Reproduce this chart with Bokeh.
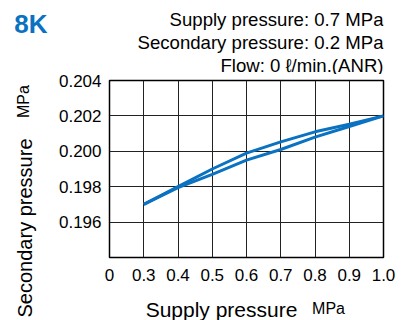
from bokeh.plotting import figure
from bokeh.layouts import column
from bokeh.models import FixedTicker, Label, Range1d, LinearAxis
from bokeh.embed import file_html
from bokeh.resources import INLINE

# --- data ---
supply = [0.3, 0.4, 0.5, 0.6, 0.7, 0.8, 0.9, 1.0]
secondary_upper = [0.1970, 0.1980, 0.1990, 0.1999, 0.20053, 0.2011, 0.20153, 0.2020]
secondary_lower = [0.1970, 0.19795, 0.1987, 0.1995, 0.2001, 0.2008, 0.2014, 0.2020]

x_ticks = [0.2, 0.3, 0.4, 0.5, 0.6, 0.7, 0.8, 0.9, 1.0]
x_tick_labels = ["0", "0.3", "0.4", "0.5", "0.6", "0.7", "0.8", "0.9", "1.0"]
y_ticks = [0.196, 0.198, 0.200, 0.202, 0.204]
y_tick_labels = ["0.196", "0.198", "0.200", "0.202", "0.204"]
y_grid = [0.194, 0.196, 0.198, 0.200, 0.202, 0.204]

title_text = "8K"
cond_lines = ["Supply pressure: 0.7 MPa", "Secondary pressure: 0.2 MPa", "Flow: 0 \u2113/min.(ANR)"]
x_label, y_label, unit = "Supply pressure", "Secondary pressure", "MPa"

BLUE = "#0a72c0"
FONT = "Liberation Sans"

W, H = 411, 320
FL, FT, FW, FH = 109, 80, 274, 177      # frame left/top/width/height in page px
BR = W - FL - FW                         # right border
TOP_H = 74                               # height of the text strip above the chart


def hide_axis_lines(ax):
    ax.axis_line_color = None
    ax.major_tick_line_color = None
    ax.minor_tick_line_color = None
    ax.major_tick_out = 0
    ax.major_tick_in = 0
    ax.major_label_text_font = FONT
    ax.major_label_text_color = "black"


# ---------- top strip: "8K" (axis tick label) + condition lines ----------
ft = figure(output_backend="svg", toolbar_location=None, title=None,
            frame_width=FW, frame_height=TOP_H,
            min_border_left=FL, min_border_right=BR, min_border_top=0, min_border_bottom=0,
            x_range=Range1d(0, FW), y_range=Range1d(0, TOP_H),
            x_axis_type=None)
ft.outline_line_color = None
ft.xgrid.visible = False
ft.ygrid.visible = False
ft.yaxis.ticker = FixedTicker(ticks=[TOP_H - 23])
ft.yaxis.major_label_overrides = {TOP_H - 23: title_text}
hide_axis_lines(ft.yaxis[0])
ft.yaxis.major_label_text_font_size = "26px"
ft.yaxis.major_label_text_font_style = "bold"
ft.yaxis.major_label_text_color = BLUE
ft.yaxis.major_label_standoff = FL - 47

for txt, base in zip(cond_lines, [19, 42, 65]):
    ft.add_layout(Label(x=FW, y=TOP_H - base, text=txt, text_font=FONT,
                        text_font_size="18.6px", text_align="right",
                        text_baseline="alphabetic", text_color="black"))

# ---------- chart ----------
p = figure(output_backend="svg", toolbar_location=None, title=None,
           frame_width=FW, frame_height=FH,
           min_border_left=FL, min_border_right=BR,
           min_border_top=FT - TOP_H, min_border_bottom=H - FT - FH,
           x_range=Range1d(0.2, 1.0), y_range=Range1d(0.194, 0.204))
p.outline_line_color = "black"
p.outline_line_width = 1.5
p.background_fill_color = "white"
p.border_fill_color = "white"

p.xaxis.ticker = FixedTicker(ticks=x_ticks)
p.xaxis.major_label_overrides = {t: l for t, l in zip(x_ticks, x_tick_labels)}
p.yaxis.ticker = FixedTicker(ticks=y_ticks)
p.yaxis.major_label_overrides = {t: l for t, l in zip(y_ticks, y_tick_labels)}
for ax in (p.xaxis[0], p.yaxis[0]):
    hide_axis_lines(ax)
    ax.major_label_text_font_size = "17px"
p.xaxis.major_label_standoff = 11
p.yaxis.major_label_standoff = 8

p.xgrid.ticker = FixedTicker(ticks=x_ticks)
p.ygrid.ticker = FixedTicker(ticks=y_grid)
for g in (p.xgrid, p.ygrid):
    g.grid_line_color = "#222222"
    g.grid_line_width = 1
    g.grid_line_alpha = 1.0

p.line(supply, secondary_upper, line_color=BLUE, line_width=3)
p.line(supply, secondary_lower, line_color=BLUE, line_width=3)

# pixel ranges for the axis-title texts
p.extra_x_ranges = {"px": Range1d(FL, FL + FW)}
p.extra_y_ranges = {"py": Range1d(0, FH)}

# y-axis title: "Secondary pressure" (20px) and "MPa" (16px), vertical
ya1_pos = FT + FH - 227.5
ya1 = LinearAxis(y_range_name="py", ticker=FixedTicker(ticks=[ya1_pos]),
                 major_label_overrides={ya1_pos: y_label},
                 major_label_orientation="vertical")
hide_axis_lines(ya1)
ya1.major_label_text_font_size = "20px"
ya1.major_label_standoff = 20
p.add_layout(ya1, "left")

ya2_pos = FT + FH - 101
ya2 = LinearAxis(y_range_name="py", ticker=FixedTicker(ticks=[ya2_pos]),
                 major_label_overrides={ya2_pos: unit},
                 major_label_orientation="vertical")
hide_axis_lines(ya2)
ya2.major_label_text_font_size = "16px"
ya2.major_label_standoff = -21
p.add_layout(ya2, "left")

# x-axis title: "Supply pressure" (21px) and "MPa" (16px)
xa1 = LinearAxis(x_range_name="px", ticker=FixedTicker(ticks=[221]),
                 major_label_overrides={221: x_label})
hide_axis_lines(xa1)
xa1.major_label_text_font_size = "21px"
xa1.major_label_standoff = 14
p.add_layout(xa1, "below")

xa2 = LinearAxis(x_range_name="px", ticker=FixedTicker(ticks=[328]),
                 major_label_overrides={328: unit},
                 major_label_orientation="horizontal")
hide_axis_lines(xa2)
xa2.major_label_text_font_size = "16px"
xa2.major_label_standoff = -24
p.add_layout(xa2, "below")

layout = column(ft, p, spacing=0)
open("out.html", "w").write(file_html(layout, INLINE))
